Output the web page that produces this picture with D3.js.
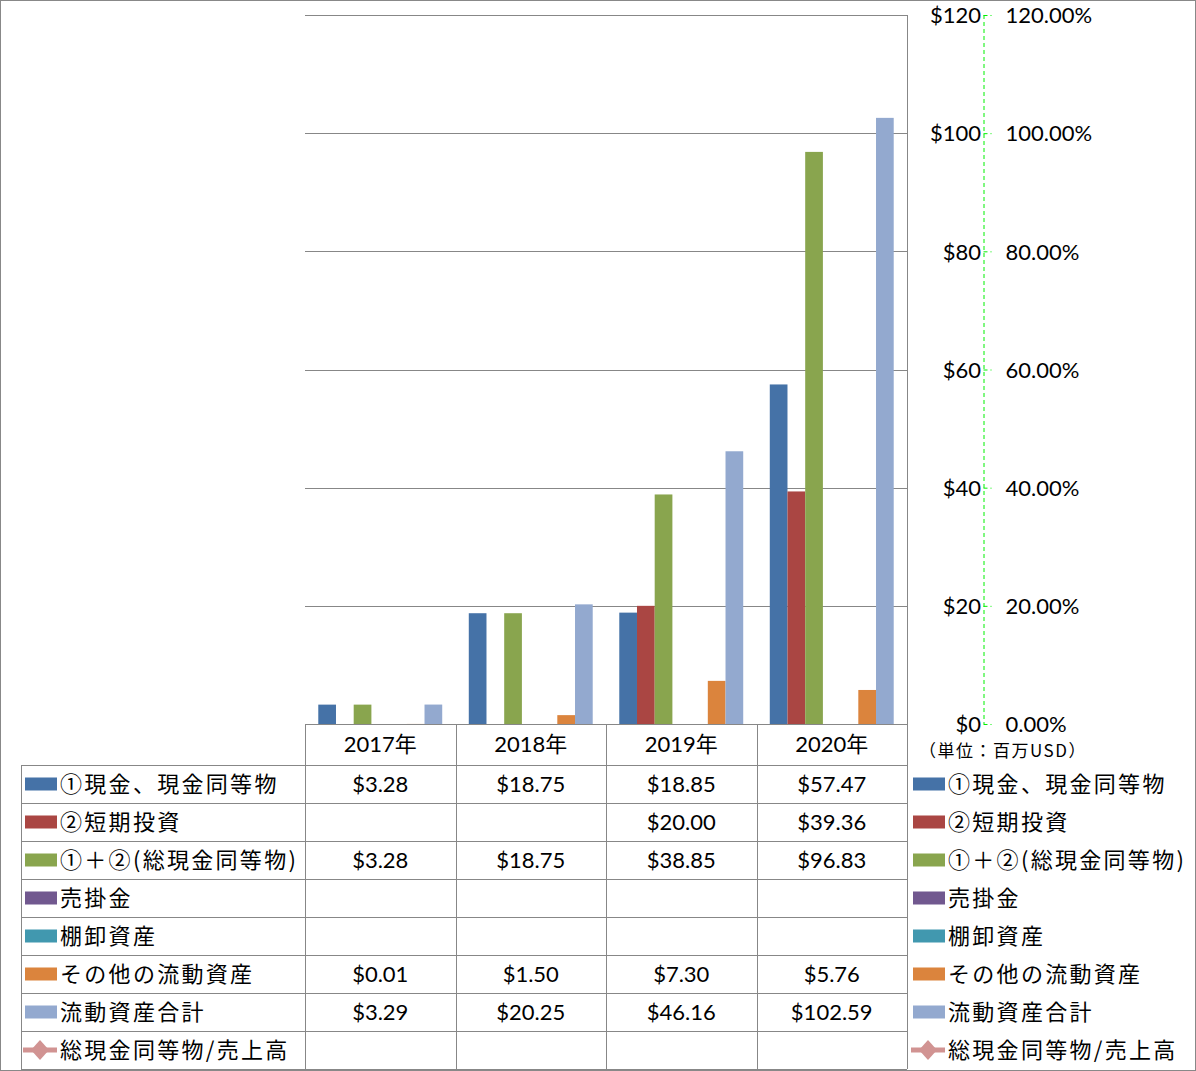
<!DOCTYPE html>
<html><head><meta charset="utf-8">
<script src="https://cdn.jsdelivr.net/npm/d3@7"></script>
<style>
html,body{margin:0;padding:0;background:#fff;}
svg{display:block;}
</style></head>
<body>
<svg id="chart" width="1196" height="1071"></svg>
<script>
const categories = ["2017年","2018年","2019年","2020年"];
const seriesNames = ["①現金、現金同等物","②短期投資","①＋②(総現金同等物)","売掛金","棚卸資産","その他の流動資産","流動資産合計","総現金同等物/売上高"];
const cash = [3.28, 18.75, 18.85, 57.47];
const shortInv = [null, null, 20.00, 39.36];
const totalCash = [3.28, 18.75, 38.85, 96.83];
const receivables = [null, null, null, null];
const inventory = [null, null, null, null];
const otherCurrent = [0.01, 1.50, 7.30, 5.76];
const totalCurrent = [3.29, 20.25, 46.16, 102.59];
const cashToSales = [null, null, null, null];
const leftTicks = [0, 20, 40, 60, 80, 100, 120];
const rightTicks = [0, 0.2, 0.4, 0.6, 0.8, 1.0, 1.2];
const unitLabel = "（単位：百万USD）";

const seriesData = [cash, shortInv, totalCash, receivables, inventory, otherCurrent, totalCurrent, cashToSales];
const colors = ["#4572A7","#AA4643","#89A54E","#71588F","#4198AF","#DB843D","#93A9CF","#D19392"];
const isBar = [true,true,true,true,true,true,true,false];

const svg = d3.select("#chart");
const numFont = "Lato, 'Noto Sans CJK JP', sans-serif";
const jpFont = "'Noto Sans CJK JP', sans-serif";
const gridColor = "#878787";

// outer border
svg.append("rect").attr("x",0.5).attr("y",0.5).attr("width",1195).attr("height",1070)
  .attr("fill","none").attr("stroke","#888").attr("stroke-width",1);

const plotL = 305, plotR = 907, plotT = 15, plotB = 724;
const x = d3.scaleBand().domain(categories).range([plotL, plotR]).padding(0);
const y = d3.scaleLinear().domain([0,120]).range([plotB, plotT]);
const y2 = d3.scaleLinear().domain([0,1.2]).range([plotB, plotT]);
const barSeries = seriesNames.map((n,i)=>i).filter(i=>isBar[i]);
const x1 = d3.scaleBand().domain(barSeries).range([0, x.bandwidth()]).paddingInner(0).paddingOuter(0.75);

// gridlines
svg.append("g").selectAll("line").data(leftTicks.filter(t=>t>0)).join("line")
  .attr("x1",plotL).attr("x2",plotR)
  .attr("y1",d=>Math.round(y(d))+0.5).attr("y2",d=>Math.round(y(d))+0.5)
  .attr("stroke",gridColor).attr("stroke-width",1);

// bars
const gBars = svg.append("g");
barSeries.forEach(si=>{
  gBars.selectAll(null).data(categories.map((c,ci)=>({c, v: seriesData[si][ci]})).filter(d=>d.v!=null)).join("rect")
    .attr("x", d=>x(d.c)+x1(si))
    .attr("width", x1.bandwidth())
    .attr("y", d=>y(d.v))
    .attr("height", d=>y(0)-y(d.v))
    .attr("fill", colors[si]);
});

// plot right border line
svg.append("line").attr("x1",plotR+0.5).attr("x2",plotR+0.5).attr("y1",plotT).attr("y2",1069)
  .attr("stroke",gridColor);

// primary axis labels (no line)
const gY = svg.append("g").attr("transform",`translate(${981},0)`)
  .call(d3.axisLeft(y).tickValues(leftTicks).tickSize(0).tickPadding(0).tickFormat(d=>"$"+d));
gY.select(".domain").remove();
gY.selectAll("text").attr("font-family",numFont).attr("font-size",22).attr("fill","#000").attr("dy","0.35em");

// secondary axis: green dashed
const gY2 = svg.append("g").attr("transform",`translate(${983.5},0)`)
  .call(d3.axisRight(y2).tickValues(rightTicks).tickSize(8).tickPadding(14).tickFormat(d3.format(".2%")));
gY2.select(".domain").attr("stroke","#00F000").attr("stroke-dasharray","4,3").attr("d",`M0.5,${plotT}V${plotB}`);
gY2.selectAll(".tick line").attr("stroke","#00F000").attr("stroke-dasharray","4,3");
gY2.selectAll("text").attr("font-family",numFont).attr("font-size",22).attr("fill","#000").attr("dy","0.35em");

// unit label
svg.append("text").attr("x",919).attr("y",757).text(unitLabel)
  .attr("font-family",jpFont).attr("font-size",17).attr("letter-spacing","1.5px").attr("fill","#000");

// data table
const tL = 21, headerB = 765, rowH = 38;
const rowY = i => headerB + i*rowH;
const tg = svg.append("g");
tg.append("line").attr("x1",plotL).attr("x2",plotR).attr("y1",plotB+0.5).attr("y2",plotB+0.5).attr("stroke",gridColor);
for(let i=0;i<=seriesNames.length;i++){
  const yy = Math.round(rowY(i))+0.5;
  tg.append("line").attr("x1",tL).attr("x2",plotR).attr("y1",yy).attr("y2",yy).attr("stroke",gridColor);
}
tg.append("line").attr("x1",tL+0.5).attr("x2",tL+0.5).attr("y1",headerB).attr("y2",rowY(seriesNames.length)).attr("stroke",gridColor);
categories.forEach(c=>{
  const xx = Math.round(x(c))+0.5;
  tg.append("line").attr("x1",xx).attr("x2",xx).attr("y1",plotB).attr("y2",rowY(seriesNames.length)).attr("stroke",gridColor);
});
tg.selectAll(null).data(categories).join("text")
  .attr("x",d=>x(d)+x.bandwidth()/2).attr("y",(plotB+headerB)/2).attr("dy","0.35em")
  .attr("text-anchor","middle").attr("font-family",numFont).attr("font-size",22).attr("fill","#000")
  .text(d=>d);
seriesNames.forEach((n,si)=>{
  tg.selectAll(null).data(categories.map((c,ci)=>({c,v:seriesData[si][ci]})).filter(d=>d.v!=null)).join("text")
    .attr("x",d=>x(d.c)+x.bandwidth()/2).attr("y",rowY(si)+rowH/2).attr("dy","0.35em")
    .attr("text-anchor","middle").attr("font-family",numFont).attr("font-size",22).attr("fill","#000")
    .text(d=>"$"+d.v.toFixed(2));
});

// legend keys (inside table and right side)
function legend(x0){
  seriesNames.forEach((n,si)=>{
    const cy = rowY(si)+rowH/2;
    if(isBar[si]){
      svg.append("rect").attr("x",x0).attr("y",cy-6.5).attr("width",32).attr("height",13).attr("fill",colors[si]);
    } else {
      svg.append("line").attr("x1",x0-2).attr("x2",x0+32).attr("y1",cy).attr("y2",cy)
        .attr("stroke",colors[si]).attr("stroke-width",5);
      svg.append("path").attr("d","M0,-10L9,0L0,10L-9,0Z").attr("transform",`translate(${x0+15},${cy})`)
        .attr("fill",colors[si]);
    }
    svg.append("text").attr("x",x0+35).attr("y",cy).attr("dy","0.36em")
      .attr("font-family",jpFont).attr("font-size",22).attr("letter-spacing","2.3px").attr("fill","#000").text(n);
  });
}
legend(25);
legend(913);
</script>
</body></html>
